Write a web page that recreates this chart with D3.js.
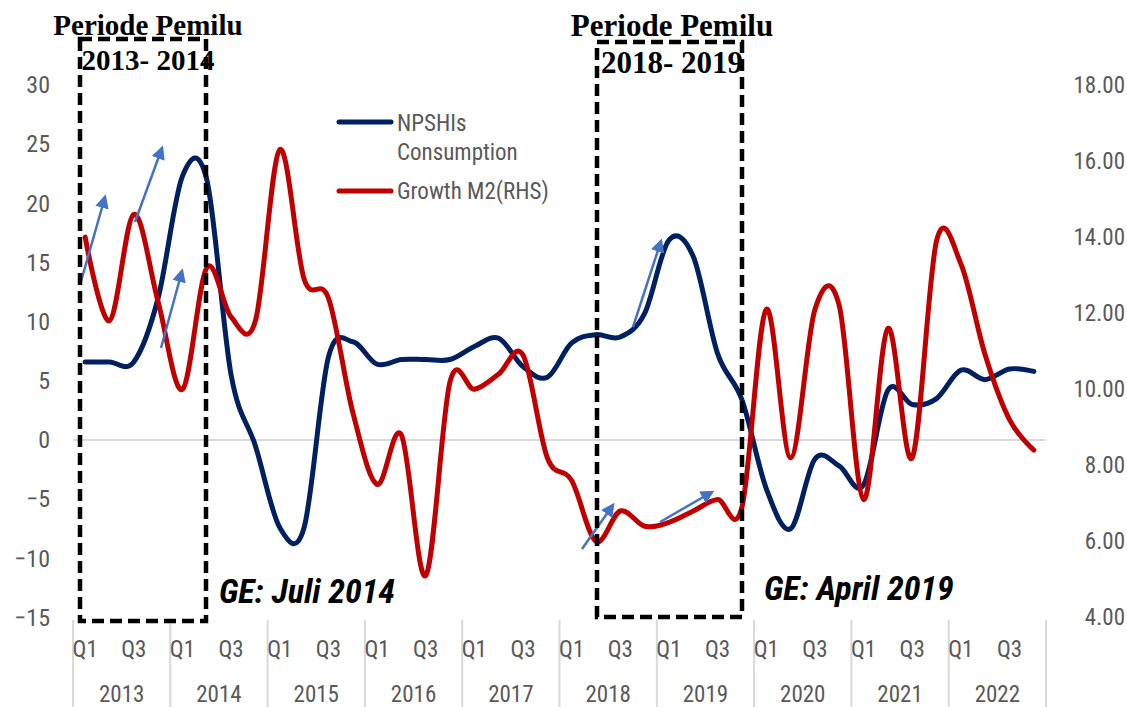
<!DOCTYPE html>
<html>
<head>
<meta charset="utf-8">
<script src="https://cdn.jsdelivr.net/npm/d3@7"></script>
<style>
  html, body { margin: 0; padding: 0; background: #fff; }
  svg { display: block; }
  .narrow { font-family: 'Liberation Sans Narrow', 'Arial Narrow', 'Roboto Condensed', sans-serif; }
</style>
</head>
<body>
<svg id="chart" width="1127" height="707"></svg>
<script>
// ---- data ----
const years = [2013, 2014, 2015, 2016, 2017, 2018, 2019, 2020, 2021, 2022];
const quarterNames = ["Q1", "Q2", "Q3", "Q4"];
const shownQuarterLabels = ["Q1", "Q3"];
const leftTicks = [30, 25, 20, 15, 10, 5, 0, -5, -10, -15];
const rightTicks = [18, 16, 14, 12, 10, 8, 6, 4];

const npshiConsumption = [
  6.6, 6.6, 6.6, 12.0,
  22.3, 22.0, 5.5, -0.5,
  -7.4, -7.4, 7.0, 8.3,
  6.4, 6.8, 6.8, 6.8,
  7.9, 8.6, 6.2, 5.3,
  8.2, 8.9, 8.7, 10.7,
  16.9, 15.5, 7.3, 3.4,
  -4.1, -7.5, -1.6, -2.2,
  -3.8, 4.2, 3.0, 3.5,
  5.9, 5.1, 6.0, 5.8
];
const growthM2 = [
  14.0, 11.8, 14.6, 12.3,
  10.0, 13.2, 11.9, 11.8,
  16.3, 12.9, 12.4, 9.4,
  7.5, 8.8, 5.1, 10.2,
  10.0, 10.4, 10.9, 8.2,
  7.6, 6.0, 6.8, 6.4,
  6.5, 6.8, 7.1, 6.9,
  12.1, 8.2, 12.1, 12.2,
  7.1, 11.6, 8.2, 13.9,
  13.3, 10.9, 9.2, 8.4
];
const seriesNames = ["NPSHIs", "Consumption", "Growth M2(RHS)"];
const periodTitles = [["Periode Pemilu", "2013- 2014"], ["Periode Pemilu", "2018- 2019"]];
const geLabels = ["GE: Juli 2014", "GE: April 2019"];

// ---- layout ----
const blue = "#002060", red = "#C00000", grey = "#595959", arrowCol = "#4472C4";
const svg = d3.select("#chart");

const periods = [];
years.forEach(y => quarterNames.forEach(q => periods.push(y + " " + q)));

const x = d3.scaleBand().domain(periods).range([73, 1046]).padding(0);
const xc = p => x(p) + x.bandwidth() / 2;
const yL = d3.scaleLinear().domain([-15, 30]).range([617.5, 85]);
const yR = d3.scaleLinear().domain([4, 18]).range([617.5, 85]);

// zero gridline
svg.append("line")
  .attr("x1", 73).attr("x2", 1046)
  .attr("y1", yL(0)).attr("y2", yL(0))
  .attr("stroke", "#d9d9d9").attr("stroke-width", 2);

// left axis
const gL = svg.append("g").attr("transform", "translate(58,0)")
  .call(d3.axisLeft(yL).tickValues(leftTicks).tickSize(0).tickPadding(8).tickFormat(d3.format("d")));
gL.select(".domain").remove();
gL.selectAll("text").attr("font-size", 24).attr("fill", grey)
  .attr("font-family", "'Liberation Sans Narrow', 'Arial Narrow', 'Roboto Condensed', sans-serif");

// right axis (right-aligned to stay inside the frame)
const gR = svg.append("g").attr("transform", "translate(1125,0)")
  .call(d3.axisRight(yR).tickValues(rightTicks).tickSize(0).tickPadding(0).tickFormat(d3.format(".2f")));
gR.select(".domain").remove();
gR.selectAll("text").attr("font-size", 23).attr("fill", grey).attr("text-anchor", "end")
  .attr("font-family", "'Liberation Sans Narrow', 'Arial Narrow', 'Roboto Condensed', sans-serif");

// category axis: year separators, quarter labels, year labels
const yearStarts = years.map(y => x(y + " Q1"));
yearStarts.push(x(years[years.length - 1] + " Q4") + x.bandwidth());
svg.append("g").selectAll("line").data(yearStarts).join("line")
  .attr("x1", d => d).attr("x2", d => d)
  .attr("y1", 620).attr("y2", 707)
  .attr("stroke", "#d9d9d9").attr("stroke-width", 2);

const qLabs = periods.filter(p => shownQuarterLabels.includes(p.split(" ")[1]));
svg.append("g").attr("class", "narrow").selectAll("text").data(qLabs).join("text")
  .attr("x", d => xc(d)).attr("y", 657)
  .attr("text-anchor", "middle").attr("font-size", 23).attr("fill", grey)
  .text(d => d.split(" ")[1]);

svg.append("g").attr("class", "narrow").selectAll("text").data(years).join("text")
  .attr("x", d => (x(d + " Q1") + x(d + " Q4") + x.bandwidth()) / 2).attr("y", 702)
  .attr("text-anchor", "middle").attr("font-size", 23).attr("fill", grey)
  .text(d => d);

// lines
const curve = d3.curveCardinal.tension(0);
const lineL = d3.line().x((d, i) => xc(periods[i])).y(d => yL(d)).curve(curve);
const lineR = d3.line().x((d, i) => xc(periods[i])).y(d => yR(d)).curve(curve);

svg.append("path").datum(npshiConsumption).attr("d", lineL)
  .attr("fill", "none").attr("stroke", blue).attr("stroke-width", 5)
  .attr("stroke-linecap", "round").attr("stroke-linejoin", "round");
svg.append("path").datum(growthM2).attr("d", lineR)
  .attr("fill", "none").attr("stroke", red).attr("stroke-width", 5)
  .attr("stroke-linecap", "round").attr("stroke-linejoin", "round");

// legend
const lg = svg.append("g").attr("class", "narrow");
lg.append("line").attr("x1", 339).attr("x2", 391).attr("y1", 122).attr("y2", 122)
  .attr("stroke", blue).attr("stroke-width", 5).attr("stroke-linecap", "round");
lg.append("text").attr("x", 397).attr("y", 131).attr("font-size", 23).attr("fill", grey).text(seriesNames[0]);
lg.append("text").attr("x", 397).attr("y", 160).attr("font-size", 23).attr("fill", grey).text(seriesNames[1]);
lg.append("line").attr("x1", 339).attr("x2", 391).attr("y1", 191).attr("y2", 191)
  .attr("stroke", red).attr("stroke-width", 5).attr("stroke-linecap", "round");
lg.append("text").attr("x", 397).attr("y", 199).attr("font-size", 23).attr("fill", grey).text(seriesNames[2]);

// arrows
const defs = svg.append("defs");
defs.append("marker").attr("id", "ah").attr("viewBox", "0 0 10 10")
  .attr("refX", 8).attr("refY", 5).attr("markerWidth", 5.5).attr("markerHeight", 5.5)
  .attr("orient", "auto").attr("markerUnits", "strokeWidth")
  .append("path").attr("d", "M0,0 L10,5 L0,10 Z").attr("fill", arrowCol);
const arrows = [
  [80, 285, 105, 197], [135, 222, 162, 148], [161, 348, 182, 271],
  [633, 327, 661, 241], [582, 549, 613, 505], [660, 522, 712, 492]
];
svg.append("g").selectAll("line").data(arrows).join("line")
  .attr("x1", d => d[0]).attr("y1", d => d[1]).attr("x2", d => d[2]).attr("y2", d => d[3])
  .attr("stroke", arrowCol).attr("stroke-width", 2.5).attr("marker-end", "url(#ah)");

// dashed period boxes
const boxes = [[80, 39, 206, 621], [597, 42, 742, 617]];
svg.append("g").selectAll("rect").data(boxes).join("rect")
  .attr("x", d => d[0]).attr("y", d => d[1])
  .attr("width", d => d[2] - d[0]).attr("height", d => d[3] - d[1])
  .attr("fill", "none").attr("stroke", "#000").attr("stroke-width", 4.5)
  .attr("stroke-dasharray", "12,6");

// period titles
const titlePos = [[148, 35, 70, 29], [672, 36, 73, 31]];
periodTitles.forEach((t, i) => {
  const p = titlePos[i];
  svg.append("text").attr("x", p[0]).attr("y", p[1]).attr("text-anchor", "middle")
    .attr("font-family", "'Liberation Serif', 'Times New Roman', serif").attr("font-weight", "bold")
    .attr("font-size", p[3]).attr("fill", "#000").text(t[0]);
  svg.append("text").attr("x", p[0]).attr("y", p[2]).attr("text-anchor", "middle")
    .attr("font-family", "'Liberation Serif', 'Times New Roman', serif").attr("font-weight", "bold")
    .attr("font-size", p[3]).attr("fill", "#000").text(t[1]);
});

// GE labels
const gePos = [[219, 603], [764, 600]];
geLabels.forEach((t, i) => {
  svg.append("text").attr("class", "narrow").attr("x", gePos[i][0]).attr("y", gePos[i][1])
    .attr("font-size", 34).attr("font-weight", "bold").attr("font-style", "italic")
    .attr("fill", "#000").text(t);
});
</script>
</body>
</html>
